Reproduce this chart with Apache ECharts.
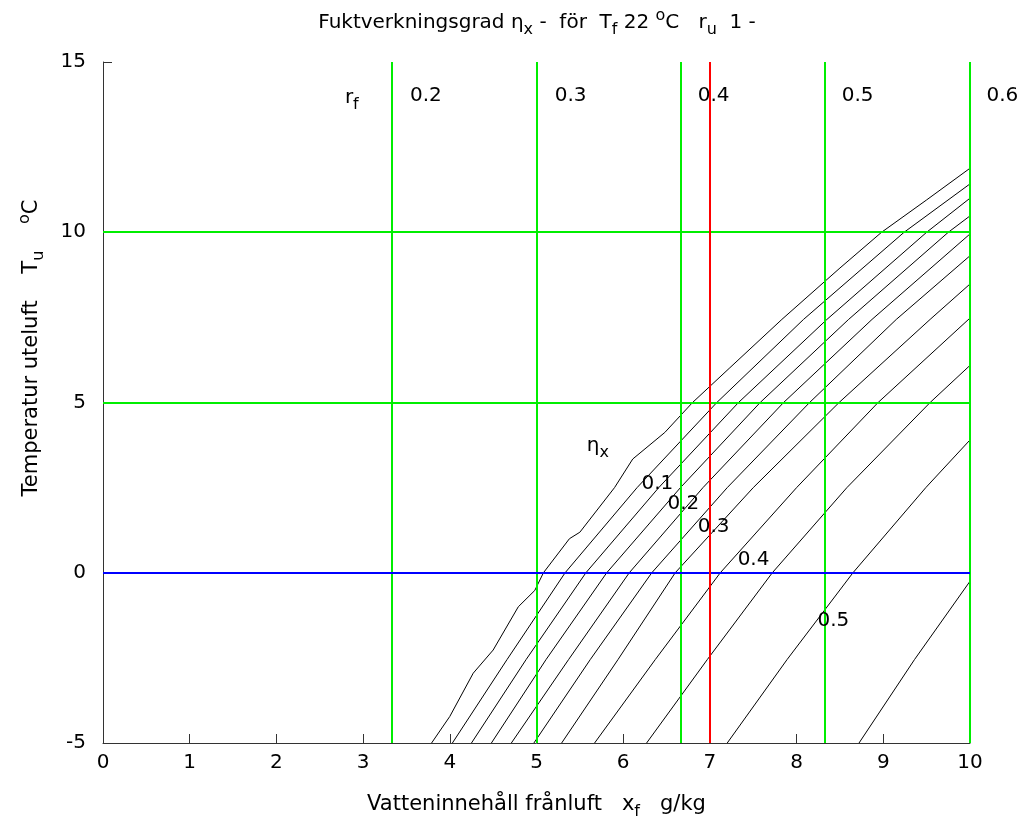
<!DOCTYPE html>
<html>
<head>
<meta charset="utf-8">
<script src="https://cdn.jsdelivr.net/npm/echarts@6/dist/echarts.min.js"></script>
<style>
  html, body { margin: 0; padding: 0; background: #fff; }
  #chart { width: 1029px; height: 825px; }
</style>
</head>
<body>
<div id="chart"></div>
<script>
// humidity efficiency curves (x = water content g/kg, y = outdoor temp)
const curve1 = [[3.79, -5], [4.0, -4.22], [4.27, -2.95], [4.50, -2.27], [4.79, -1.0], [4.98, -0.52], [5.08, 0], [5.38, 1.0], [5.50, 1.19], [5.90, 2.5], [6.11, 3.34], [6.48, 4.12], [6.80, 5.0], [7.23, 6.02], [7.83, 7.44], [8.50, 8.95], [8.98, 10], [9.50, 10.95], [10, 11.88]]
const curve2 = [[4.03, -5], [4.66, -2.55], [5.33, 0], [6.16, 2.5], [7.08, 5], [8.08, 7.44], [9.24, 10], [10, 11.42]]
const curve3 = [[4.25, -5], [4.88, -2.55], [5.57, 0], [6.41, 2.5], [7.33, 5], [8.35, 7.44], [9.50, 10], [10, 11.0]]
const curve4 = [[4.48, -5], [5.11, -2.55], [5.81, 0], [6.66, 2.5], [7.58, 5], [8.60, 7.44], [9.75, 10], [10, 10.48]]
const curve5 = [[4.71, -5], [5.37, -2.55], [6.07, 0], [6.92, 2.5], [7.85, 5], [8.87, 7.44], [10, 9.95]]
const curve6 = [[4.97, -5], [5.62, -2.55], [6.33, 0], [7.20, 2.5], [8.15, 5], [9.15, 7.44], [10, 9.31]]
const curve7 = [[5.29, -5], [5.94, -2.55], [6.60, 0], [7.50, 2.5], [8.49, 5], [9.54, 7.44], [10, 8.48]]
const curve8 = [[5.67, -5], [6.37, -2.55], [7.12, 0], [8.0, 2.5], [8.94, 5], [10, 7.48]]
const curve9 = [[6.27, -5], [6.97, -2.55], [7.72, 0], [8.58, 2.5], [9.54, 5], [10, 6.09]]
const curve10 = [[7.20, -5], [7.89, -2.55], [8.65, 0], [9.49, 2.5], [10, 3.90]]
const curve11 = [[8.72, -5], [9.36, -2.55], [10, -0.25]]
const curves = [curve1, curve2, curve3, curve4, curve5, curve6, curve7, curve8, curve9, curve10, curve11]

// r_f reference lines and labels
const rfX = [3.333, 5, 6.667, 8.333, 10]
const rfLabels = ['0.2', '0.3', '0.4', '0.5', '0.6']
const rfLabelX = [3.54, 5.21, 6.86, 8.52, 10.19]
const rfLabelY = 14
const greenY = [5, 10]
const blueY = [0]
const redX = [7]

// eta_x contour labels
const etaLabels = ['0.1', '0.2', '0.3', '0.4', '0.5']
const etaLabelPos = [[6.21, 2.61], [6.51, 2.02], [6.86, 1.34], [7.32, 0.39], [8.24, -1.40]]
const etaTitlePos = [5.58, 3.72]
const rfTitlePos = [2.79, 13.94]

const xTicks = { min: 0, max: 10, interval: 1 }
const yTicks = { min: -5, max: 15, interval: 5 }

const font = 'DejaVu Sans, Verdana, sans-serif'
const fs = 20
const base = { fontSize: fs, fontFamily: font, color: '#000' }
const big = { fontSize: 21, fontFamily: font, color: '#000' }
const sub = { fontSize: 16, padding: [14, 0, 0, 0], fontFamily: font, color: '#000' }
const sup = { fontSize: 16, padding: [0, 0, 14, 0], fontFamily: font, color: '#000' }
const rich = { b: base, n: big, s: sub, p: sup }

const chart = echarts.init(document.getElementById('chart'), null, { renderer: 'canvas' })

// straight reference lines: [orientation, value, colour]
const refLines = []
rfX.forEach(x => refLines.push(['v', x, '#00ee00']))
greenY.forEach(y => refLines.push(['h', y, '#00ee00']))
blueY.forEach(y => refLines.push(['h', y, '#0000ff']))
redX.forEach(x => refLines.push(['v', x, '#ff0000']))

const texts = []
rfLabels.forEach((t, i) => texts.push({ value: [rfLabelX[i], rfLabelY], text: '{b|' + t + '}' }))
etaLabels.forEach((t, i) => texts.push({ value: etaLabelPos[i], text: '{b|' + t + '}' }))
texts.push({ value: etaTitlePos, text: '{b|η}{s|x}' })
texts.push({ value: rfTitlePos, text: '{b|r}{s|f}' })

const series = []
curves.forEach(c => {
  series.push({
    type: 'line', data: c, symbol: 'none', silent: true, color: '#000',
    lineStyle: { color: '#000', width: 1 }, emphasis: { disabled: true }, z: 2
  })
})
series.push({
  type: 'custom', silent: true, z: 3, clip: false,
  data: refLines.map((l, i) => [i]),
  renderItem: (params, api) => {
    const [dir, v, color] = refLines[params.dataIndex]
    let a, b
    if (dir === 'v') {
      a = api.coord([v, yTicks.max]); b = api.coord([v, yTicks.min])
      const px = Math.round(a[0])
      a[0] = px; b[0] = px
    } else {
      a = api.coord([xTicks.min, v]); b = api.coord([xTicks.max, v])
      const py = Math.round(a[1])
      a[1] = py; b[1] = py
    }
    return {
      type: 'line',
      shape: { x1: a[0], y1: a[1], x2: b[0], y2: b[1] },
      style: { stroke: color, lineWidth: 2 }
    }
  }
})
series.push({
  type: 'custom', silent: true, z: 5, clip: false,
  data: texts.map(t => t.value),
  renderItem: (params, api) => {
    const p = api.coord([api.value(0), api.value(1)])
    return {
      type: 'text', x: p[0], y: p[1],
      style: { text: texts[params.dataIndex].text, rich, align: 'left', verticalAlign: 'middle' }
    }
  }
})

chart.setOption({
  animation: false,
  backgroundColor: '#fff',
  grid: { left: 103, right: 59, top: 62, bottom: 80 },
  graphic: [
    {
      type: 'text', x: 537, y: 23, silent: true,
      style: {
        text: '{b|Fuktverkningsgrad }{b|η}{s|x}{b| -  för  T}{s|f}{b| 22 }{p|o}{b|C   r}{s|u}{b|  1 -}',
        rich, align: 'center', verticalAlign: 'middle'
      }
    },
    {
      type: 'text', x: 32, y: 348, rotation: Math.PI / 2, silent: true,
      style: {
        text: '{n|Temperatur uteluft    T}{s|u}{n|    }{p|o}{n|C}',
        rich, align: 'center', verticalAlign: 'middle'
      }
    }
  ],
  xAxis: {
    type: 'value', min: xTicks.min, max: xTicks.max, interval: xTicks.interval,
    name: '{n|Vatteninnehåll frånluft   x}{s|f}{n|   g/kg}',
    nameLocation: 'middle', nameGap: 47,
    nameTextStyle: { rich },
    axisLine: { show: true, onZero: false, lineStyle: { color: '#333', width: 1 } },
    axisTick: { show: true, inside: true, length: 9, lineStyle: { color: '#333' } },
    axisLabel: { fontSize: fs, fontFamily: font, color: '#000', margin: 10 },
    splitLine: { show: false }
  },
  yAxis: {
    type: 'value', min: yTicks.min, max: yTicks.max, interval: yTicks.interval,
    axisLine: { show: true, onZero: false, lineStyle: { color: '#333', width: 1 } },
    axisTick: { show: true, inside: true, length: 9, lineStyle: { color: '#333' } },
    axisLabel: { fontSize: fs, fontFamily: font, color: '#000', margin: 17 },
    splitLine: { show: false }
  },
  series
})
</script>
</body>
</html>
